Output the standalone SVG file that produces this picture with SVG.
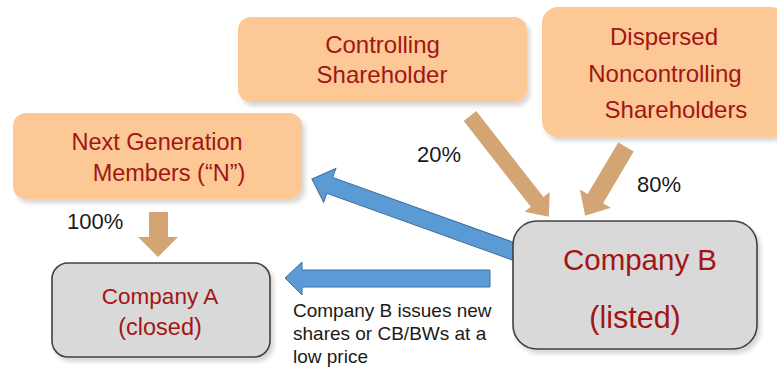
<svg xmlns="http://www.w3.org/2000/svg" width="777" height="369" viewBox="0 0 777 369">
<defs>
<filter id="sh" x="-10%" y="-10%" width="125%" height="130%">
<feDropShadow dx="3" dy="4" stdDeviation="2" flood-color="#000" flood-opacity="0.16"/>
</filter>
</defs>
<style>
.org{fill:#fbc896;filter:url(#sh)}
.co{fill:#d9d9d9;stroke:#404040;stroke-width:1.6;filter:url(#sh)}
.tan{fill:#d4a574}
.blue{fill:#5b9bd5;stroke:#41719c;stroke-width:1}
.t{font-family:"Liberation Sans",Arial,sans-serif;fill:#a31515;text-anchor:middle}
.lbl{font-family:"Liberation Sans",Arial,sans-serif;fill:#1a1a1a}
</style>
<rect width="777" height="369" fill="#ffffff"/>
<g id="connectors">
<polygon class="tan" points="149,212 168,212 168,237 178,237 158,257 138,237 149,237"/>
<polygon class="tan" transform="translate(470,116) rotate(52)" points="0,-8 109,-8 109,-16 128,0 109,16 109,8 0,8"/>
<polygon class="tan" transform="translate(626,147) rotate(120.7)" points="0,-9 60,-9 60,-18 80,0 60,18 60,9 0,9"/>
<polygon class="blue" transform="translate(518,253) rotate(199.76)" points="0,-8.5 200,-8.5 200,-18 219,0 200,18 200,8.5 0,8.5"/>
<polygon class="blue" points="490,270 302,270 302,262 285,278 302,295 302,287 490,287"/>
<text class="lbl" x="67" y="229" font-size="22">100%</text>
<text class="lbl" x="417" y="162" font-size="22">20%</text>
<text class="lbl" x="637" y="192" font-size="22">80%</text>
<text class="lbl" x="293" y="317" font-size="19">Company B issues new</text>
<text class="lbl" x="293" y="340" font-size="19">shares or CB/BWs at a</text>
<text class="lbl" x="293" y="363" font-size="19">low price</text>
</g>
<g id="node-nextgen">
<rect class="org" x="13" y="113" width="289" height="86" rx="13"/>
<text class="t" x="157" y="150" font-size="23.5">Next Generation</text>
<text class="t" x="169" y="181" font-size="23.5">Members (“N”)</text>
</g>
<g id="node-controlling">
<rect class="org" x="238" y="17" width="289" height="85" rx="13"/>
<text class="t" x="382.5" y="53" font-size="24">Controlling</text>
<text class="t" x="382" y="83" font-size="24">Shareholder</text>
</g>
<g id="node-dispersed">
<rect class="org" x="542" y="7" width="245" height="130" rx="16"/>
<text class="t" x="664" y="45" font-size="24">Dispersed</text>
<text class="t" x="665" y="82" font-size="24">Noncontrolling</text>
<text class="t" x="676" y="118" font-size="24">Shareholders</text>
</g>
<g id="node-companyA">
<rect class="co" x="52" y="263" width="218" height="94" rx="16"/>
<text class="t" x="160" y="304" font-size="22.5">Company A</text>
<text class="t" x="160" y="335" font-size="23.5">(closed)</text>
</g>
<g id="node-companyB">
<rect class="co" x="513" y="221" width="244" height="128" rx="24"/>
<text class="t" x="640" y="270" font-size="29.5" fill="#b00000">Company B</text>
<text class="t" x="635" y="328" font-size="30.5">(listed)</text>
</g>
</svg>
